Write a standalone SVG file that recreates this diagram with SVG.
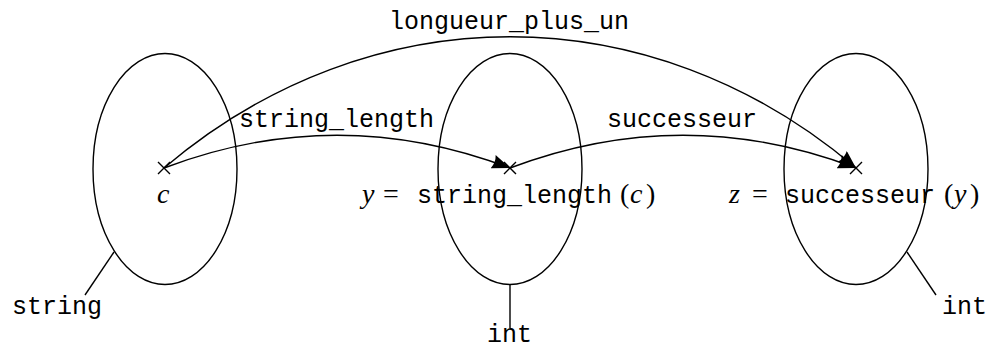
<svg xmlns="http://www.w3.org/2000/svg" width="989" height="350" viewBox="0 0 989 350">
<style>
.set{fill:none;stroke:#000;stroke-width:1.4}
.ln{fill:none;stroke:#000;stroke-width:1.4}
.tt{font-family:"Liberation Mono","DejaVu Sans Mono",monospace;font-size:25px;fill:#000}
.mi{font-family:"Liberation Serif","DejaVu Serif",serif;font-style:italic;font-size:28px;fill:#000}
.mr{font-family:"Liberation Serif","DejaVu Serif",serif;font-size:28px;fill:#000}
</style>
<defs>
<marker id="ah" markerUnits="userSpaceOnUse" markerWidth="22" markerHeight="18" refX="18" refY="7" orient="auto">
<path d="M0,0 L18,7 L0,14 Q3,7 0,0 Z" fill="#000"/>
</marker>
</defs>
<g id="string-set">
<ellipse class="set" cx="165" cy="169" rx="72" ry="115.5"/>
<line class="ln" x1="114" y1="252" x2="85" y2="295"/>
<text class="tt" x="12" y="314">string</text>
<path class="ln" d="M158,162 L170,174 M158,174 L170,162"/>
<text class="mi" x="157" y="203">c</text>
</g>
<g id="int-set-1">
<ellipse class="set" cx="510" cy="169" rx="72" ry="115.5"/>
<line class="ln" x1="510" y1="285" x2="510" y2="328"/>
<text class="tt" x="487" y="342">int</text>
<path class="ln" d="M504,162 L516,174 M504,174 L516,162"/>
<text y="203"><tspan class="mi" x="362">y</tspan><tspan class="mr" x="383">=</tspan><tspan class="tt" x="417">string_length</tspan><tspan class="mr" x="620">(</tspan><tspan class="mi" x="630">c</tspan><tspan class="mr" x="646">)</tspan></text>
</g>
<g id="int-set-2">
<ellipse class="set" cx="856" cy="169" rx="72" ry="115.5"/>
<line class="ln" x1="907" y1="252" x2="936" y2="295"/>
<text class="tt" x="942" y="314">int</text>
<path class="ln" d="M850,162 L862,174 M850,174 L862,162"/>
<text y="203"><tspan class="mi" x="729">z</tspan><tspan class="mr" x="752">=</tspan><tspan class="tt" x="785">successeur</tspan><tspan class="mr" x="944">(</tspan><tspan class="mi" x="954">y</tspan><tspan class="mr" x="970">)</tspan></text>
</g>
<g id="connectors">
<path class="ln" d="M164,168 C280,124 394,124 510,168" marker-end="url(#ah)"/>
<text class="tt" x="239" y="127">string_length</text>
<path class="ln" d="M510,168 C626,124 740,124 856,168" marker-end="url(#ah)"/>
<text class="tt" x="607" y="127">successeur</text>
<path class="ln" d="M164,168 C370,-7 650,-7 856,168" marker-end="url(#ah)"/>
<text class="tt" x="389" y="29">longueur_plus_un</text>
</g>
</svg>
